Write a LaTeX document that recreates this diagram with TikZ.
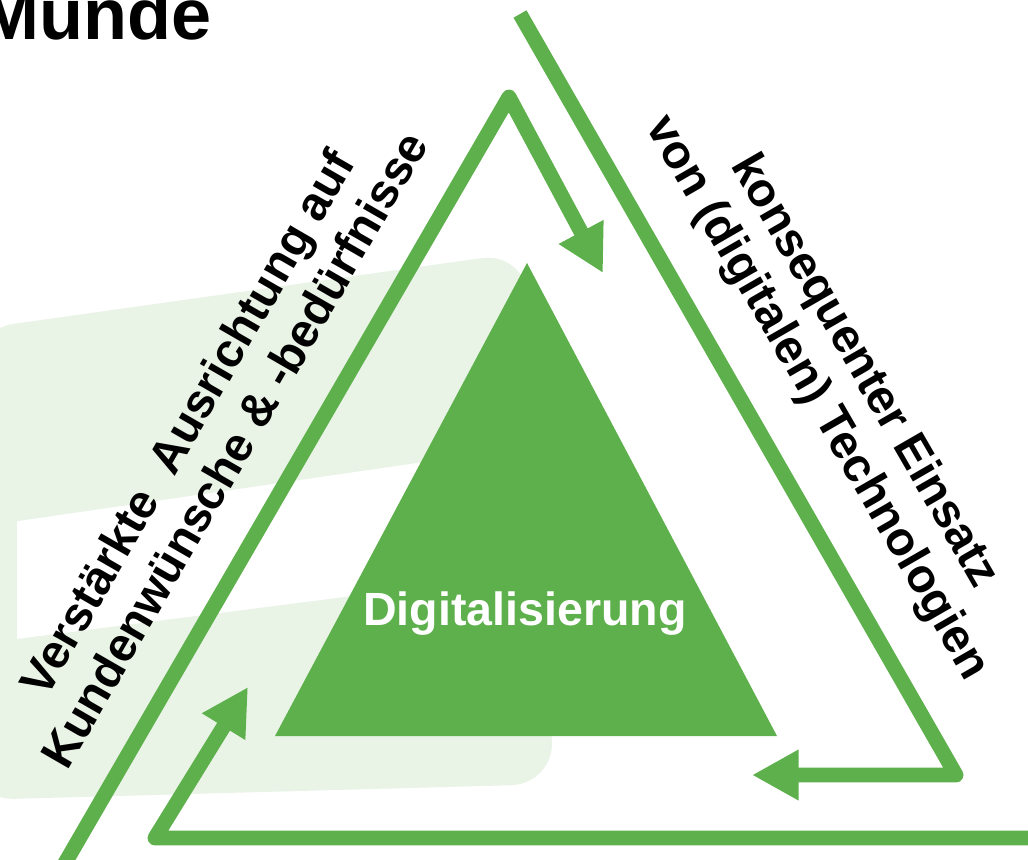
\documentclass[tikz,border=0pt]{standalone}
\usepackage{fontspec}
\setmainfont{Liberation Sans}
\usetikzlibrary{arrows.meta}
\definecolor{leafgreen}{RGB}{93,176,75}
\definecolor{paleleaf}{RGB}{233,243,230}
\tikzset{
  flow/.style={draw=leafgreen, line width=8.5pt, line join=round,
    -{Triangle[length=26.5pt,width=27pt]}},
  sidetext/.style={font=\bfseries\fontsize{27}{31}\selectfont,
    align=center, inner sep=0pt},
}

\begin{document}
\begin{tikzpicture}[x=0.02cm, y=-0.02cm]
	\useasboundingbox (0,0) rectangle (1028,859);
	% pale logo behind everything
	\fill[paleleaf, rounded corners=25] (-30,330) -- (525,252) -- (540,445) -- (-30,528) -- cycle;
	\fill[paleleaf, rounded corners=25] (-30,645) -- (540,572) -- (555,784) -- (-30,800) -- cycle;
	\fill[paleleaf] (-30,500) rectangle (17,670);

	\node[anchor=base east, font=\bfseries\fontsize{41}{49}\selectfont, inner sep=0pt] (title) at (212,39) {Munde};

	% corner points of the three arrows
	\coordinate (lfoot) at (61,870);
	\coordinate (apex) at (509,97);
	\coordinate (atip) at (603,273);
	\coordinate (rtop) at (520,14);
	\coordinate (rfoot) at (956,775);
	\coordinate (btip) at (752,775);
	\coordinate (bstart) at (1040,838);
	\coordinate (bfoot) at (155,838);
	\coordinate (ctip) at (248,687);

	% inner triangle
	\coordinate (dl) at (275,736);
	\coordinate (dr) at (777,736);
	\coordinate (dt) at (527,263);
	\fill[leafgreen] (dl) -- (dr) -- (dt) -- cycle;
	\node[text=white, font=\bfseries\fontsize{26.5}{31}\selectfont] (core) at (525,614) {Digitalisierung};

	\draw[flow] (lfoot) -- (apex) -- (atip);
	\draw[flow] (rtop) -- (rfoot) -- (btip);
	\draw[flow] (bstart) -- (bfoot) -- (ctip);

	\node[sidetext, rotate=60] (kunde) at (210,436) {Verstärkte\ \ Ausrichtung auf\\Kundenwünsche \& -bedürfnisse};
	\node[sidetext, rotate=-60] (technik) at (840,385) {konsequenter Einsatz\\von (digitalen) Technologien};
\end{tikzpicture}
\end{document}
